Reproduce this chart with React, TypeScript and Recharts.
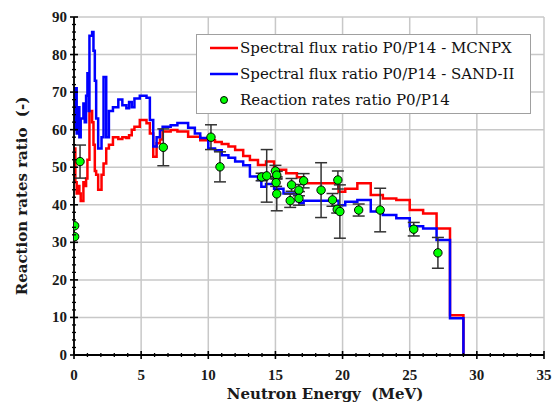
import {
  CartesianGrid,
  ComposedChart,
  ErrorBar,
  Label,
  Legend,
  Line,
  Scatter,
  XAxis,
  YAxis
} from "recharts";

// group boundaries (MeV) shared by the two spectral ratio curves, drawn as steps
const energy = [
  0, 0.1, 0.2, 0.3, 0.4, 0.5, 0.7, 0.8, 0.9, 1.0, 1.1, 1.15, 1.35, 1.45, 1.55, 1.65, 1.8, 2.05, 2.2, 2.4,
  2.6, 2.9, 3.3, 3.6, 3.9, 4.1, 4.3, 4.5, 4.9, 5.4, 5.65, 5.9, 6.15, 6.4, 6.6, 7.2, 7.7, 8.5, 9.0, 9.4,
  10.0, 10.5, 11.0, 11.5, 12.0, 12.6, 13.1, 13.7, 13.95, 14.3, 14.9, 15.6, 15.8, 16.6, 16.8, 17.1, 19.7,
  20.2, 21.1, 22.1, 23.0, 24.0, 25.0, 26.0, 27.0, 28.0, 29.0
];
const mcnpxRatio = [
  55, 46, 43, 45, 43, 41, 46, 45, 47, 52, 52, 65, 62, 56, 49, 48, 44, 48, 51, 55,
  56, 58, 57.5, 58, 57.8, 58.5, 60, 60.8, 62.6, 61.7, 59, 52.8, 56.4, 57.4, 59.5, 59.9, 59.5, 58.1, 58.1, 57.2,
  57.2, 56.7, 56.2, 55.5, 54.6, 53, 51.9, 50.6, 50.6, 51.5, 49.3, 49.3, 48.4, 47.3, 47.3, 45.7, 43.5,
  44.3, 45.7, 42.6, 41.7, 41.3, 38.6, 37.7, 33.7, 10.6, 0
];
const sandRatio = [
  60, 71, 59, 66, 58, 63, 67, 62, 69, 75, 65, 85, 86, 81, 73, 63, 55, 58, 74, 58,
  65, 66, 68, 66.5, 65.7, 67.4, 66, 68.3, 69, 68.5, 62.6, 55.5, 58, 59.9, 60.8, 61.2, 61.8, 60.5, 59, 57.8,
  55, 54.5, 53.2, 52.5, 51.5, 50.5, 47.5, 46.6, 44.8, 45.5, 44.3, 43, 43, 41, 40.4, 41.1, 39.9,
  40.8, 41.3, 38.2, 37.3, 36.4, 34.3, 33.7, 30.6, 9.8, 0
];

// measured reaction rate ratios with their uncertainty
const rateEnergy = [
  0.05, 0.05, 0.45, 6.65, 10.2, 10.87, 13.97, 14.35, 15.0, 15.1, 15.05, 15.1, 16.2, 16.1, 16.75, 16.75,
  17.1, 18.4, 19.25, 19.65, 19.6, 19.8, 21.2, 22.8, 25.3, 27.1
];
const rateRatio = [
  34.4, 31.5, 51.5, 55.3, 58, 50.1, 47.4, 47.7, 49, 47.9, 45.9, 42.9, 45.3, 41.1, 43.9, 41.7,
  46.4, 43.9, 41.3, 46.6, 38.8, 38.2, 38.6, 38.6, 33.5, 27.2
];
const rateError = [
  0, 0, 4.4, 4.9, 3.3, 4, 1, 7, 1.5, 1, 1, 4.5, 1.7, 1.8, 1.5, 1.8,
  1.9, 7.3, 1.7, 2.4, 1, 7.1, 1.6, 5.8, 1.8, 4.1
];

const xMajor = [0, 5, 10, 15, 20, 25, 30, 35];
const yMajor = [0, 10, 20, 30, 40, 50, 60, 70, 80, 90];
const xTicks = Array.from({ length: 36 }, (_, i) => i);
const yTicks = Array.from({ length: 46 }, (_, i) => i * 2);

const legendItems = [
  { label: "Spectral flux ratio P0/P14 - MCNPX", color: "#ff0000", kind: "line" },
  { label: "Spectral flux ratio P0/P14 - SAND-II", color: "#0000ff", kind: "line" },
  { label: "Reaction rates ratio P0/P14", color: "#00ff00", kind: "dot" }
];

const spectra = energy.map((e, i) => ({ e, mcnpx: mcnpxRatio[i], sand: sandRatio[i] }));
const rates = rateEnergy.map((e, i) => ({ e, v: rateRatio[i], err: rateError[i] }));

const tickFont = { fontFamily: "'Liberation Serif', serif", fontWeight: 700, fontSize: 15, fill: "#1a1a1a" };
const titleFont = { fontFamily: "'DejaVu Serif', serif", fontWeight: 700, fontSize: 15, fill: "#1a1a1a" };

function XTick({ x, y, payload }: any) {
  const major = xMajor.includes(payload.value);
  const h = major ? 4 : 2;
  return (
    <g>
      <line x1={x} x2={x} y1={y - h} y2={y + h} stroke="#000" strokeWidth={major ? 1.6 : 1.3} />
      {major && (
        <text x={x} y={y + 25} textAnchor="middle" {...tickFont}>
          {payload.value}
        </text>
      )}
    </g>
  );
}

function YTick({ x, y, payload }: any) {
  const major = yMajor.includes(payload.value);
  const h = major ? 4 : 2;
  return (
    <g>
      <line x1={x - h} x2={x + h} y1={y} y2={y} stroke="#000" strokeWidth={major ? 1.6 : 1.3} />
      {major && (
        <text x={x - 7} y={y + 5} textAnchor="end" {...tickFont}>
          {payload.value}
        </text>
      )}
    </g>
  );
}

function XTitle({ viewBox }: any) {
  return (
    <text x={viewBox.x + viewBox.width / 2 + 16} y={viewBox.y + 44} textAnchor="middle" style={{ whiteSpace: "pre" }} {...titleFont}>
      {"Neutron Energy  (MeV)"}
    </text>
  );
}

function YTitle({ viewBox }: any) {
  const cx = viewBox.x + 22;
  const cy = viewBox.y + viewBox.height / 2 + 10;
  return (
    <text x={cx} y={cy} textAnchor="middle" dominantBaseline="central" transform={`rotate(-90 ${cx} ${cy})`} style={{ whiteSpace: "pre" }} {...titleFont}>
      {"Reaction rates ratio  (-)"}
    </text>
  );
}

function LegendBox() {
  return (
    <div
      style={{
        width: 333,
        height: 78,
        border: "1px solid #a0a0a0",
        background: "#fff",
        fontFamily: "'DejaVu Serif', serif",
        fontSize: 15,
        color: "#111",
        paddingTop: 0
      }}
    >
      {legendItems.map((item) => (
        <div key={item.label} style={{ display: "flex", alignItems: "center", height: 26, whiteSpace: "nowrap" }}>
          <svg width={43} height={26} style={{ flex: "none" }}>
            {item.kind === "line" ? (
              <line x1={13} x2={41} y1={13} y2={13} stroke={item.color} strokeWidth={2.5} />
            ) : (
              <circle cx={27} cy={13} r={3.5} fill={item.color} stroke="#000" strokeWidth={1} />
            )}
          </svg>
          <span>{item.label}</span>
        </div>
      ))}
    </div>
  );
}

function RateDot({ cx, cy }: any) {
  return <circle cx={cx} cy={cy} r={4.2} fill="#00ff00" stroke="#000" strokeWidth={1} />;
}

export default function App() {
  return (
    <div style={{ position: "absolute", left: 0, top: 0, background: "#fff" }}>
      <ComposedChart width={555} height={405} data={spectra} margin={{ top: 17, right: 11, bottom: 0, left: 0 }}>
        <CartesianGrid horizontalValues={yMajor} verticalValues={xMajor} stroke="#c8c8c8" strokeWidth={1.5} />
        <XAxis
          dataKey="e"
          type="number"
          domain={[0, 35]}
          ticks={xTicks}
          interval={0}
          height={50}
          tickSize={0}
          tickMargin={0}
          tick={<XTick />}
          axisLine={{ stroke: "#000", strokeWidth: 1.8 }}
          allowDataOverflow
        >
          <Label content={<XTitle />} />
        </XAxis>
        <YAxis
          type="number"
          domain={[0, 90]}
          ticks={yTicks}
          interval={0}
          width={74}
          tickSize={0}
          tickMargin={0}
          tick={<YTick />}
          axisLine={{ stroke: "#000", strokeWidth: 1.8 }}
          allowDataOverflow
        >
          <Label content={<YTitle />} />
        </YAxis>
        <Line
          type="stepAfter"
          dataKey="mcnpx"
          stroke="#ff0000"
          strokeWidth={2.5}
          dot={false}
          activeDot={false}
          isAnimationActive={false}
        />
        <Line
          type="stepAfter"
          dataKey="sand"
          stroke="#0000ff"
          strokeWidth={2.5}
          dot={false}
          activeDot={false}
          isAnimationActive={false}
        />
        <Scatter data={rates} dataKey="v" shape={<RateDot />} isAnimationActive={false}>
          <ErrorBar dataKey="err" direction="y" width={6} stroke="#333" strokeWidth={1.5} isAnimationActive={false} />
        </Scatter>
        <Legend
          layout="vertical"
          align="center"
          verticalAlign="middle"
          content={<LegendBox />}
          wrapperStyle={{ left: 196, top: 34, width: 335, height: 80 }}
        />
      </ComposedChart>
    </div>
  );
}
